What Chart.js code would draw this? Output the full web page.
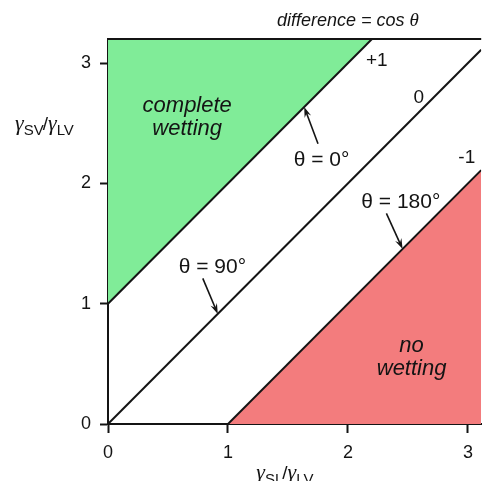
<!DOCTYPE html>
<html>
<head>
<meta charset="utf-8">
<script src="https://cdn.jsdelivr.net/npm/chart.js@4.4.1/dist/chart.umd.min.js"></script>
<style>
  body { margin: 0; background: #fff; }
  #wrap { width: 482px; height: 481px; }
</style>
</head>
<body>
<div id="wrap"><canvas id="chart" width="482" height="481"></canvas></div>
<script>
// axis ranges and ticks
let xMax = 3.11;
let yMax = 3.2;
let tickValues = [0, 1, 2, 3];

// the three boundary lines: difference = +1, 0, -1
let lineComplete = [{ x: 0, y: 1 }, { x: 2.2, y: 3.2 }];
let lineNinety = [{ x: 0, y: 0 }, { x: 3.11, y: 3.11 }];
let lineNone = [{ x: 1, y: 0 }, { x: 3.11, y: 2.11 }];

// text labels in data units
let lineLabels = [
  { text: "+1", x: 2.24, y: 3.02 },
  { text: "0", x: 2.59, y: 2.71 },
  { text: "-1", x: 2.99, y: 2.21 },
];
let angleLabels = [
  { text: "θ = 0°", x: 1.78, y: 2.19 },
  { text: "θ = 90°", x: 0.87, y: 1.3 },
  { text: "θ = 180°", x: 2.44, y: 1.84 },
];
let regionLabels = [
  { lines: ["complete", "wetting"], x: 0.66, y: 2.545 },
  { lines: ["no", "wetting"], x: 2.53, y: 0.555 },
];
// arrows: tail -> head
let arrows = [
  { x1: 1.75, y1: 2.33, x2: 1.635, y2: 2.635 },
  { x1: 0.79, y1: 1.21, x2: 0.915, y2: 0.915 },
  { x1: 2.32, y1: 1.75, x2: 2.455, y2: 1.455 },
];

let green = "rgb(128, 236, 152)";
let red = "rgb(243, 124, 125)";
let ink = "#141414";

function arrow(ctx, x1, y1, x2, y2) {
  let ang = Math.atan2(y2 - y1, x2 - x1);
  let len = 11;
  ctx.strokeStyle = ink;
  ctx.fillStyle = ink;
  ctx.lineWidth = 1.6;
  ctx.beginPath();
  ctx.moveTo(x1, y1);
  ctx.lineTo(x2 - Math.cos(ang) * 4, y2 - Math.sin(ang) * 4);
  ctx.stroke();
  ctx.beginPath();
  ctx.moveTo(x2, y2);
  ctx.lineTo(x2 - len * Math.cos(ang - 0.32), y2 - len * Math.sin(ang - 0.32));
  ctx.lineTo(x2 - len * 0.6 * Math.cos(ang), y2 - len * 0.6 * Math.sin(ang));
  ctx.lineTo(x2 - len * Math.cos(ang + 0.32), y2 - len * Math.sin(ang + 0.32));
  ctx.closePath();
  ctx.fill();
}

function gammaRatio(ctx, x, y, a, b) {
  // draws gamma_a / gamma_b starting at x, baseline y
  let big = "italic 22px 'Liberation Serif'";
  let sub = "15px 'Liberation Sans'";
  ctx.textAlign = "left";
  ctx.textBaseline = "alphabetic";
  ctx.font = big;
  ctx.fillText("γ", x, y);
  x += ctx.measureText("γ").width;
  ctx.font = sub;
  ctx.fillText(a, x, y + 5);
  x += ctx.measureText(a).width;
  ctx.font = "19px 'Liberation Sans'";
  ctx.fillText("/", x - 1, y);
  x += ctx.measureText("/").width - 1;
  ctx.font = big;
  ctx.fillText("γ", x, y);
  x += ctx.measureText("γ").width;
  ctx.font = sub;
  ctx.fillText(b, x, y + 5);
}

function ratioWidth(ctx, a, b) {
  ctx.font = "italic 22px 'Liberation Serif'";
  let w = ctx.measureText("γ").width * 2;
  ctx.font = "15px 'Liberation Sans'";
  w += ctx.measureText(a).width + ctx.measureText(b).width;
  ctx.font = "19px 'Liberation Sans'";
  w += ctx.measureText("/").width - 2;
  return w;
}

let notes = {
  id: "notes",
  afterDraw(chart) {
    let ctx = chart.ctx;
    let xs = chart.scales.x;
    let ys = chart.scales.y;
    let area = chart.chartArea;
    ctx.save();
    ctx.fillStyle = ink;

    // top frame line
    ctx.strokeStyle = ink;
    ctx.lineWidth = 2;
    ctx.beginPath();
    ctx.moveTo(area.left, area.top);
    ctx.lineTo(area.right, area.top);
    ctx.stroke();

    ctx.textAlign = "center";
    ctx.textBaseline = "middle";
    ctx.font = "19px 'Liberation Sans'";
    lineLabels.forEach(function (l) {
      ctx.fillText(l.text, xs.getPixelForValue(l.x), ys.getPixelForValue(l.y));
    });
    ctx.font = "21px 'Liberation Sans'";
    angleLabels.forEach(function (l) {
      ctx.fillText(l.text, xs.getPixelForValue(l.x), ys.getPixelForValue(l.y));
    });
    ctx.font = "italic 22px 'Liberation Sans'";
    regionLabels.forEach(function (r) {
      let px = xs.getPixelForValue(r.x);
      let py = ys.getPixelForValue(r.y);
      ctx.fillText(r.lines[0], px, py - 11.5);
      ctx.fillText(r.lines[1], px, py + 11.5);
    });
    arrows.forEach(function (a) {
      arrow(ctx, xs.getPixelForValue(a.x1), ys.getPixelForValue(a.y1),
        xs.getPixelForValue(a.x2), ys.getPixelForValue(a.y2));
    });

    // header
    ctx.fillStyle = ink;
    ctx.textAlign = "left";
    ctx.font = "italic 18px 'Liberation Sans'";
    let head = "difference = cos ";
    let hw = ctx.measureText(head).width;
    ctx.font = "italic 19px 'Liberation Serif'";
    let tw = ctx.measureText("θ").width;
    let hx = xs.getPixelForValue(2.0) - (hw + tw) / 2;
    ctx.font = "italic 18px 'Liberation Sans'";
    ctx.fillText(head, hx, 21);
    ctx.font = "italic 19px 'Liberation Serif'";
    ctx.fillText("θ", hx + hw, 21);

    // axis titles
    gammaRatio(ctx, 15, ys.getPixelForValue(2.48) + 4, "SV", "LV");
    let w = ratioWidth(ctx, "SL", "LV");
    gammaRatio(ctx, xs.getPixelForValue(1.47) - w / 2, area.bottom + 55, "SL", "LV");
    ctx.restore();
  },
};

let ctx = document.getElementById("chart").getContext("2d");
let chart = new Chart(ctx, {
  type: "scatter",
  data: {
    datasets: [
      {
        data: lineComplete,
        showLine: true,
        borderColor: ink,
        borderWidth: 2,
        pointRadius: 0,
        fill: "end",
        backgroundColor: green,
      },
      {
        data: lineNinety,
        showLine: true,
        borderColor: ink,
        borderWidth: 2,
        pointRadius: 0,
        fill: false,
      },
      {
        data: lineNone,
        showLine: true,
        borderColor: ink,
        borderWidth: 2,
        pointRadius: 0,
        fill: "start",
        backgroundColor: red,
      },
    ],
  },
  options: {
    responsive: false,
    animation: false,
    layout: { padding: { top: 39, right: 0, left: 0, bottom: 0 } },
    plugins: {
      legend: { display: false },
      tooltip: { enabled: false },
    },
    scales: {
      x: {
        type: "linear",
        min: 0,
        max: xMax,
        afterBuildTicks: function (s) {
          s.ticks = tickValues.map(function (v) { return { value: v }; });
        },
        afterFit: function (s) { s.height = 57; },
        grid: { drawOnChartArea: false, tickLength: 9, tickWidth: 2, tickColor: ink },
        border: { color: ink, width: 2 },
        ticks: {
          color: ink,
          padding: 9,
          maxRotation: 0,
          font: { family: "'Liberation Sans'", size: 18 },
        },
      },
      y: {
        type: "linear",
        min: 0,
        max: yMax,
        afterBuildTicks: function (s) {
          s.ticks = tickValues.map(function (v) { return { value: v }; });
        },
        afterFit: function (s) { s.width = 108; },
        grid: { drawOnChartArea: false, tickLength: 8, tickWidth: 2, tickColor: ink },
        border: { color: ink, width: 2 },
        ticks: {
          color: ink,
          padding: 9,
          font: { family: "'Liberation Sans'", size: 18 },
        },
      },
    },
  },
  plugins: [notes],
});
</script>
</body>
</html>
